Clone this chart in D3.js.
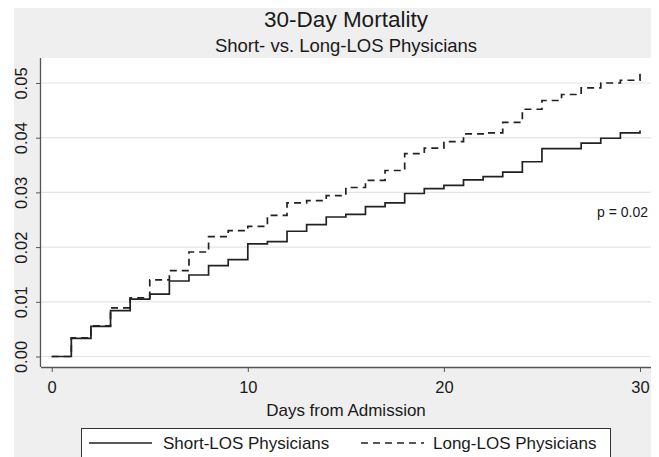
<!DOCTYPE html>
<html>
<head>
<meta charset="utf-8">
<script src="https://cdn.jsdelivr.net/npm/d3@7"></script>
<style>
  html, body { margin: 0; padding: 0; background: #ffffff; }
  svg { display: block; font-family: "Liberation Sans", Arial, sans-serif; }
</style>
</head>
<body>
<svg id="chart" width="659" height="457"></svg>
<script>
// ---- data ----
const days = [0,1,2,3,4,5,6,7,8,9,10,11,12,13,14,15,16,17,18,19,20,21,22,23,24,25,26,27,28,29,30];
const shortLOS = [0,0.0033,0.0055,0.0084,0.0105,0.0114,0.0138,0.0149,0.0166,0.0177,
                  0.0206,0.0210,0.0229,0.0241,0.0255,0.0260,0.0274,0.0281,0.0298,0.0307,
                  0.0313,0.0323,0.0329,0.0337,0.0356,0.0380,0.0380,0.0390,0.0399,0.0409,0.0413];
const longLOS  = [0,0.0034,0.0056,0.0089,0.0107,0.0140,0.0157,0.0191,0.0219,0.0230,
                  0.0238,0.0258,0.0281,0.0285,0.0294,0.0309,0.0322,0.0340,0.0371,0.0381,
                  0.0393,0.0407,0.0409,0.0428,0.0452,0.0468,0.0479,0.0491,0.0500,0.0505,0.0524];
const xTicks = [0,10,20,30];
const yTicks = [0,0.01,0.02,0.03,0.04,0.05];
const seriesNames = ["Short-LOS Physicians","Long-LOS Physicians"];
const title = "30-Day Mortality";
const subtitle = "Short- vs. Long-LOS Physicians";
const xTitle = "Days from Admission";
const pText = "p = 0.02";

// ---- layout ----
const svg = d3.select("#chart");
const plot = {left: 41, right: 651, top: 58, bottom: 367};

svg.append("rect").attr("x", 14).attr("y", 8).attr("width", 651 - 14).attr("height", 457 - 8)
  .attr("fill", "#efefef");
svg.append("rect").attr("x", plot.left).attr("y", plot.top)
  .attr("width", plot.right - plot.left).attr("height", plot.bottom - plot.top)
  .attr("fill", "#ffffff");

const x = d3.scaleLinear().domain([-0.546, 30.561]).range([plot.left, plot.right]);
const y = d3.scaleLinear().domain([-0.00192, 0.05457]).range([plot.bottom, plot.top]);

// gridlines
svg.append("g").selectAll("line").data(yTicks).join("line")
  .attr("x1", plot.left).attr("x2", plot.right)
  .attr("y1", d => y(d)).attr("y2", d => y(d))
  .attr("stroke", "#e4e4e4").attr("stroke-width", 1.2);

// axes
const axisColor = "#555555";
const gx = svg.append("g").attr("transform", `translate(0,${plot.bottom})`)
  .call(d3.axisBottom(x).tickValues(xTicks).tickSize(5).tickSizeOuter(0).tickFormat(d3.format("d")));
gx.select(".domain").attr("d", `M${plot.left},0.5H${plot.right}`);
const gy = svg.append("g").attr("transform", `translate(${plot.left},0)`)
  .call(d3.axisLeft(y).tickValues(yTicks).tickSize(5).tickSizeOuter(0).tickFormat(d3.format(".2f")));
gy.select(".domain").attr("d", `M-0.5,${plot.top}V${plot.bottom}`);
[gx, gy].forEach(g => {
  g.select(".domain").attr("stroke", axisColor).attr("stroke-width", 1.3);
  g.selectAll(".tick line").attr("stroke", axisColor).attr("stroke-width", 1);
  g.selectAll("text").attr("fill", "#1a1a1a").attr("font-size", 16.5)
    .attr("font-family", "Liberation Sans, Arial, sans-serif");
});
gx.selectAll(".tick text").attr("y", 26).attr("dy", 0);
gy.selectAll(".tick text").attr("x", 0).attr("dy", 0).attr("text-anchor", "middle")
  .attr("transform", "translate(-14,0) rotate(-90)");

// lines
const line = d3.line().x((d, i) => x(days[i])).y(d => y(d)).curve(d3.curveStepAfter);
svg.append("path").datum(shortLOS).attr("d", line)
  .attr("fill", "none").attr("stroke", "#222222").attr("stroke-width", 1.7);
svg.append("path").datum(longLOS).attr("d", line)
  .attr("fill", "none").attr("stroke", "#222222").attr("stroke-width", 1.7)
  .attr("stroke-dasharray", "7,5");

// titles
const cx = (plot.left + plot.right) / 2;
svg.append("text").attr("x", cx).attr("y", 27).attr("text-anchor", "middle")
  .attr("font-size", 22.5).attr("fill", "#1a1a1a").text(title);
svg.append("text").attr("x", cx).attr("y", 52).attr("text-anchor", "middle")
  .attr("font-size", 18.5).attr("fill", "#1a1a1a").text(subtitle);
svg.append("text").attr("x", cx).attr("y", 416).attr("text-anchor", "middle")
  .attr("font-size", 17).attr("fill", "#1a1a1a").text(xTitle);
svg.append("text").attr("x", 648).attr("y", 217).attr("text-anchor", "end")
  .attr("font-size", 14).attr("fill", "#1a1a1a").text(pText);

// legend
const lg = svg.append("g");
lg.append("rect").attr("x", 81.5).attr("y", 428.5).attr("width", 529).attr("height", 40)
  .attr("fill", "#ffffff").attr("stroke", "#333333").attr("stroke-width", 1);
const legendItems = [
  {name: seriesNames[0], x0: 89, x1: 152, tx: 163, dash: null},
  {name: seriesNames[1], x0: 361, x1: 424, tx: 433, dash: "7,5"}
];
legendItems.forEach(it => {
  lg.append("line").attr("x1", it.x0).attr("x2", it.x1).attr("y1", 443).attr("y2", 443)
    .attr("stroke", "#222222").attr("stroke-width", 1.6)
    .attr("stroke-dasharray", it.dash);
  lg.append("text").attr("x", it.tx).attr("y", 449).attr("font-size", 17)
    .attr("fill", "#1a1a1a").text(it.name);
});
</script>
</body>
</html>
